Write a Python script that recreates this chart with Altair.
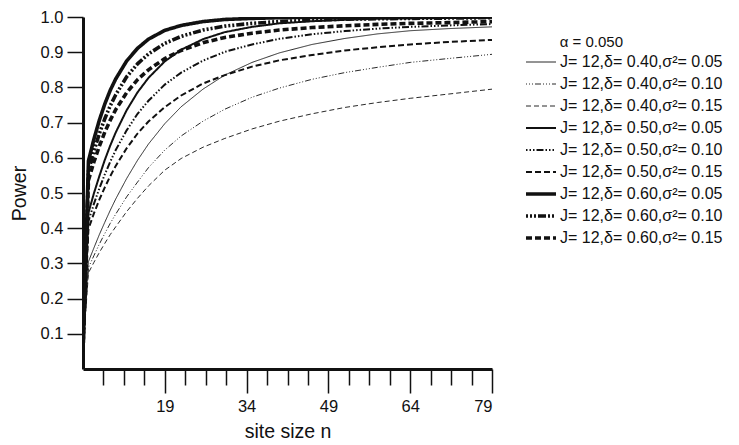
import altair as alt
import pandas as pd

# site size n
n_values = [4, 5, 6, 7, 8, 9, 10, 12, 14, 16, 19, 22, 26, 30, 35, 40, 46, 52, 58, 64, 71, 79]

series_labels = [
    "J= 12,δ= 0.40,σ²= 0.05",
    "J= 12,δ= 0.40,σ²= 0.10",
    "J= 12,δ= 0.40,σ²= 0.15",
    "J= 12,δ= 0.50,σ²= 0.05",
    "J= 12,δ= 0.50,σ²= 0.10",
    "J= 12,δ= 0.50,σ²= 0.15",
    "J= 12,δ= 0.60,σ²= 0.05",
    "J= 12,δ= 0.60,σ²= 0.10",
    "J= 12,δ= 0.60,σ²= 0.15",
]

power_d40_s05 = [0.05, 0.305, 0.344, 0.382, 0.417, 0.451, 0.483, 0.541, 0.593, 0.639, 0.697, 0.745, 0.795, 0.835, 0.871, 0.898, 0.922, 0.939, 0.952, 0.961, 0.967, 0.972]
power_d40_s10 = [0.05, 0.288, 0.322, 0.355, 0.385, 0.414, 0.440, 0.489, 0.531, 0.572, 0.622, 0.662, 0.704, 0.738, 0.772, 0.798, 0.823, 0.842, 0.857, 0.871, 0.882, 0.894]
power_d40_s15 = [0.05, 0.273, 0.303, 0.331, 0.357, 0.382, 0.404, 0.447, 0.485, 0.520, 0.565, 0.598, 0.630, 0.655, 0.682, 0.704, 0.725, 0.743, 0.757, 0.769, 0.781, 0.795]
power_d50_s05 = [0.05, 0.444, 0.499, 0.548, 0.594, 0.635, 0.672, 0.735, 0.786, 0.827, 0.874, 0.907, 0.937, 0.957, 0.972, 0.982, 0.988, 0.992, 0.995, 0.996, 0.997, 0.998]
power_d50_s10 = [0.05, 0.420, 0.469, 0.513, 0.553, 0.589, 0.622, 0.678, 0.725, 0.762, 0.808, 0.842, 0.876, 0.901, 0.922, 0.938, 0.951, 0.960, 0.967, 0.972, 0.976, 0.980]
power_d50_s15 = [0.05, 0.398, 0.442, 0.481, 0.516, 0.548, 0.577, 0.627, 0.669, 0.703, 0.744, 0.777, 0.811, 0.835, 0.859, 0.877, 0.892, 0.905, 0.914, 0.922, 0.929, 0.935]
power_d60_s05 = [0.05, 0.591, 0.653, 0.707, 0.753, 0.792, 0.824, 0.875, 0.911, 0.937, 0.962, 0.976, 0.987, 0.993, 0.996, 0.998, 0.999, 0.999, 1.0, 1.0, 1.0, 1.0]
power_d60_s10 = [0.05, 0.562, 0.619, 0.669, 0.711, 0.748, 0.779, 0.830, 0.867, 0.895, 0.925, 0.945, 0.963, 0.974, 0.982, 0.987, 0.991, 0.994, 0.995, 0.996, 0.997, 0.998]
power_d60_s15 = [0.05, 0.536, 0.588, 0.633, 0.673, 0.707, 0.737, 0.785, 0.822, 0.850, 0.882, 0.905, 0.927, 0.942, 0.954, 0.963, 0.970, 0.975, 0.979, 0.982, 0.984, 0.987]

all_series = [power_d40_s05, power_d40_s10, power_d40_s15,
              power_d50_s05, power_d50_s10, power_d50_s15,
              power_d60_s05, power_d60_s10, power_d60_s15]

x_tick_values = [7.75, 11.5, 15.25, 19, 22.75, 26.5, 30.25, 34, 37.75, 41.5, 45.25,
                 49, 52.75, 56.5, 60.25, 64, 67.75, 71.5, 75.25, 79]
x_major_ticks = [19, 34, 49, 64, 79]
y_tick_values = [0.1, 0.2, 0.3, 0.4, 0.5, 0.6, 0.7, 0.8, 0.9, 1.0]

dash_patterns = [[1, 0], [1, 2, 1, 2, 1, 2, 6, 2], [5, 3],
                 [1, 0], [1.5, 2, 1.5, 2, 1.5, 2, 7, 2], [6, 3],
                 [1, 0], [2, 2, 2, 2, 2, 2, 8, 2], [6, 3]]
stroke_widths = [0.9, 0.9, 0.9, 2.0, 2.0, 2.0, 3.6, 3.6, 3.6]

rows = []
for label, vals in zip(series_labels, all_series):
    for n, p in zip(n_values, vals):
        rows.append({"n": n, "power": p, "series": label})
df = pd.DataFrame(rows)

FONT = "Liberation Sans"
major_test = "indexof([19, 34, 49, 64, 79], datum.value) >= 0"

legend = alt.Legend(
    title="α = 0.050",
    orient="none",
    legendX=441,
    legendY=18,
    symbolType="stroke",
    symbolSize=900,
    symbolStrokeColor="#111",
    clipHeight=20,
    labelFont=FONT,
    labelFontSize=16,
    labelColor="#111",
    labelOffset=2,
    labelLimit=300,
    titleFont=FONT,
    titleFontSize=15,
    titleFontWeight="normal",
    titleColor="#111",
    titleAnchor="middle",
    titleAlign="right",
    titlePadding=2,
    rowPadding=2,
)

chart = alt.Chart(df).mark_line(color="#111", strokeCap="butt", clip=True).encode(
    x=alt.X(
        "n:Q",
        scale=alt.Scale(domain=[4, 79], nice=False, zero=False),
        axis=alt.Axis(
            values=x_tick_values,
            tickSize={"condition": {"test": major_test, "value": 24}, "value": 16},
            tickWidth=1.5,
            tickColor="#111",
            domainWidth=3,
            domainColor="#111",
            labelExpr=f"{major_test} ? datum.label : ''",
            labelFont=FONT,
            labelFontSize=16.5,
            labelColor="#111",
            labelPadding=5,
            grid=False,
            title="site size n",
            titleFont=FONT,
            titleFontSize=19.5,
            titleFontWeight="normal",
            titleColor="#111",
            titleY=62,
            titleBaseline="middle",
        ),
    ),
    y=alt.Y(
        "power:Q",
        scale=alt.Scale(domain=[0, 1], nice=False),
        axis=alt.Axis(
            values=y_tick_values,
            format=".1f",
            tickSize=16,
            tickWidth=1.5,
            tickColor="#111",
            domainWidth=3,
            domainColor="#111",
            labelFont=FONT,
            labelFontSize=16.5,
            labelColor="#111",
            labelPadding=4,
            grid=False,
            title="Power",
            titleFont=FONT,
            titleFontSize=19.5,
            titleFontWeight="normal",
            titleColor="#111",
            titleX=-64,
            titleY=176,
            titleAngle=-90,
            titleAlign="center",
            titleBaseline="middle",
        ),
    ),
    strokeDash=alt.StrokeDash(
        "series:N",
        scale=alt.Scale(domain=series_labels, range=dash_patterns),
        legend=legend,
    ),
    strokeWidth=alt.StrokeWidth(
        "series:N",
        scale=alt.Scale(type="ordinal", domain=series_labels, range=stroke_widths),
        legend=legend,
    ),
).properties(
    width=409,
    height=352,
    padding={"left": 75, "top": 9, "right": 239, "bottom": 72},
    autosize=alt.AutoSizeParams(type="none"),
    background="white",
).configure_view(stroke=None)

chart.save("out.html", embed_options={"renderer": "svg", "actions": False})
